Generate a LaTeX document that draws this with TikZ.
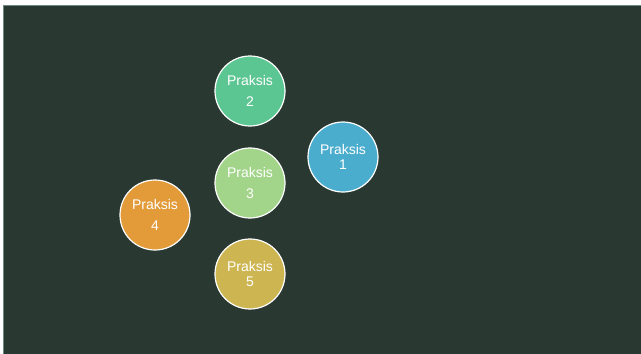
\documentclass[tikz,border=0pt]{standalone}
\usepackage{fontspec}
\setmainfont{Liberation Sans}
\definecolor{bgdark}{HTML}{2A3832}
\definecolor{bgedge}{HTML}{6E8A80}
\definecolor{cgreen}{HTML}{5CC692}
\definecolor{cblue}{HTML}{4BADCE}
\definecolor{clight}{HTML}{A2D48A}
\definecolor{corange}{HTML}{E39B3A}
\definecolor{cmustard}{HTML}{CDB552}
\tikzset{
  praksis/.style={circle, draw=white, line width=1.2pt, minimum size=70pt, inner sep=0pt,
    text=white, align=center, font=\fontsize{14}{15.5}\selectfont},
}
\begin{document}
\begin{tikzpicture}[x=1pt,y=-1pt]
\useasboundingbox (0,0) rectangle (641,354);
\fill[white] (0,0) rectangle (641,354);
\fill[bgdark] (3,5) rectangle (641,354);
\draw[bgedge, line width=1pt] (3.5,354) -- (3.5,5.5) -- (641,5.5);
\node[praksis, fill=cgreen] (p2) at (250,91) {Praksis\\[6pt]2};
\node[praksis, fill=cblue] (p1) at (343,157) {Praksis\\1};
\node[praksis, fill=clight] (p3) at (250,183) {Praksis\\[6pt]3};
\node[praksis, fill=corange] (p4) at (155,215) {Praksis\\[6pt]4};
\node[praksis, fill=cmustard] (p5) at (250,274) {Praksis\\5};
\end{tikzpicture}
\end{document}
